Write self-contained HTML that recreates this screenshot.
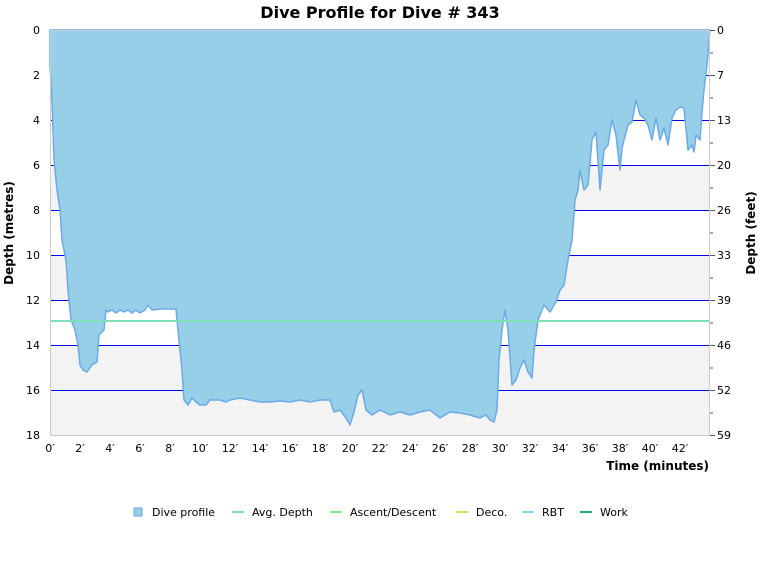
<!DOCTYPE html>
<html><head><meta charset="utf-8"><style>
body{margin:0;background:#fff;}
svg text{font-family:"DejaVu Sans","Liberation Sans",sans-serif;}
</style></head><body>
<svg width="760" height="580" viewBox="0 0 760 580" xmlns="http://www.w3.org/2000/svg">
<rect width="760" height="580" fill="#fff"/>
<text x="380" y="18" text-anchor="middle" font-size="16" font-weight="bold" fill="#000">Dive Profile for Dive # 343</text>
<!-- bands -->
<rect x="50" y="165" width="660" height="45" fill="#f3f3f3"/>
<rect x="50" y="255" width="660" height="45" fill="#f3f3f3"/>
<rect x="50" y="345" width="660" height="90" fill="#f3f3f3"/>
<g stroke="#0000ee" stroke-width="1">
<line x1="50" y1="75.5" x2="710" y2="75.5"/>
<line x1="50" y1="120.5" x2="710" y2="120.5"/>
<line x1="50" y1="165.5" x2="710" y2="165.5"/>
<line x1="50" y1="210.5" x2="710" y2="210.5"/>
<line x1="50" y1="255.5" x2="710" y2="255.5"/>
<line x1="50" y1="300.5" x2="710" y2="300.5"/>
<line x1="50" y1="345.5" x2="710" y2="345.5"/>
<line x1="50" y1="390.5" x2="710" y2="390.5"/>
</g>
<path fill="#98cfe8" stroke="#6aaae8" stroke-width="1.5" stroke-linejoin="round" d="M50,30 L50,65 52,100 54,160 57,190 60,210 62,240 66,260 68,290 71,320 75,330 78,345 80,365 83,370 87,372 92,365 97,362 99,335 104,330 106,310 108,312 112,310 116,313 120,310 124,312 128,310 132,313 136,310 140,313 145,310 148,305 152,310 160,309 176,309 178,330 182,370 184,400 188,405 192,398 196,402 200,405 206,405 210,400 220,400 226,402 230,400 240,398 250,400 260,402 270,402 280,401 290,402 300,400 310,402 320,400 330,400 334,412 340,410 346,418 350,425 354,412 358,395 362,390 366,410 372,415 380,410 390,415 400,412 410,415 420,412 430,410 440,418 450,412 460,413 470,415 480,418 486,415 490,420 494,422 497,410 499,360 502,330 505,310 508,330 512,385 516,380 520,368 524,360 528,372 532,378 534,350 538,320 544,305 550,312 556,302 560,290 564,285 568,260 572,240 575,200 578,190 580,170 584,190 588,185 592,140 596,132 600,190 604,150 608,145 612,120 616,135 620,170 622,148 624,140 628,125 632,122 636,100 640,115 644,118 648,125 652,140 656,118 660,140 664,128 668,145 672,118 676,110 680,107 684,108 688,150 692,145 694,152 696,135 700,140 702,112 704,90 707,65 710,30 Z"/>
<line x1="50" y1="321" x2="710" y2="321" stroke="#7de0b8" stroke-width="2"/>
<!-- frame -->
<rect x="50.5" y="30.5" width="659" height="405" fill="none" stroke="#ccc"/>
<!-- left ticks -->
<g font-size="11" fill="#000" text-anchor="end">
<text x="40" y="34">0</text><text x="40" y="79">2</text><text x="40" y="124">4</text><text x="40" y="169">6</text><text x="40" y="214">8</text><text x="40" y="259">10</text><text x="40" y="304">12</text><text x="40" y="349">14</text><text x="40" y="394">16</text><text x="40" y="439">18</text>
</g>
<!-- right ticks -->
<g stroke="#555">
<line x1="710" y1="30.5" x2="715" y2="30.5"/><line x1="710" y1="53" x2="713" y2="53"/>
<line x1="710" y1="75.5" x2="715" y2="75.5"/><line x1="710" y1="98" x2="713" y2="98"/>
<line x1="710" y1="120.5" x2="715" y2="120.5"/><line x1="710" y1="143" x2="713" y2="143"/>
<line x1="710" y1="165.5" x2="715" y2="165.5"/><line x1="710" y1="188" x2="713" y2="188"/>
<line x1="710" y1="210.5" x2="715" y2="210.5"/><line x1="710" y1="233" x2="713" y2="233"/>
<line x1="710" y1="255.5" x2="715" y2="255.5"/><line x1="710" y1="278" x2="713" y2="278"/>
<line x1="710" y1="300.5" x2="715" y2="300.5"/><line x1="710" y1="323" x2="713" y2="323"/>
<line x1="710" y1="345.5" x2="715" y2="345.5"/><line x1="710" y1="368" x2="713" y2="368"/>
<line x1="710" y1="390.5" x2="715" y2="390.5"/><line x1="710" y1="413" x2="713" y2="413"/>
<line x1="710" y1="435.5" x2="715" y2="435.5"/>
</g>
<g font-size="11" fill="#000">
<text x="717" y="34">0</text><text x="717" y="79">7</text><text x="717" y="124">13</text><text x="717" y="169">20</text><text x="717" y="214">26</text><text x="717" y="259">33</text><text x="717" y="304">39</text><text x="717" y="349">46</text><text x="717" y="394">52</text><text x="717" y="439">59</text>
</g>
<!-- x ticks -->
<g font-size="11" fill="#000" text-anchor="middle">
<text x="50" y="452">0′</text><text x="80" y="452">2′</text><text x="110" y="452">4′</text><text x="140" y="452">6′</text><text x="170" y="452">8′</text><text x="200" y="452">10′</text><text x="230" y="452">12′</text><text x="260" y="452">14′</text><text x="290" y="452">16′</text><text x="320" y="452">18′</text><text x="350" y="452">20′</text><text x="380" y="452">22′</text><text x="410" y="452">24′</text><text x="440" y="452">26′</text><text x="470" y="452">28′</text><text x="500" y="452">30′</text><text x="530" y="452">32′</text><text x="560" y="452">34′</text><text x="590" y="452">36′</text><text x="620" y="452">38′</text><text x="650" y="452">40′</text><text x="680" y="452">42′</text>
</g>
<text x="709" y="470" text-anchor="end" font-size="12" font-weight="bold">Time (minutes)</text>
<text transform="translate(13,233) rotate(-90)" text-anchor="middle" font-size="12" font-weight="bold">Depth (metres)</text>
<text transform="translate(755,233) rotate(-90)" text-anchor="middle" font-size="12" font-weight="bold">Depth (feet)</text>
<!-- legend -->
<g font-size="11" fill="#000">
<rect x="134" y="508" width="8" height="8" fill="#98cfe8" stroke="#6aaae8"/><text x="152" y="516">Dive profile</text>
<rect x="232" y="511" width="12" height="2" fill="#7de0b8"/><text x="252" y="516">Avg. Depth</text>
<rect x="330" y="511" width="12" height="2" fill="#8ee88e"/><text x="350" y="516">Ascent/Descent</text>
<rect x="456" y="511" width="12" height="2" fill="#d8e060"/><text x="476" y="516">Deco.</text>
<rect x="522" y="511" width="12" height="2" fill="#88d4f4"/><text x="542" y="516">RBT</text>
<rect x="580" y="511" width="12" height="2" fill="#20b080"/><text x="600" y="516">Work</text>
</g>
</svg>
</body></html>
